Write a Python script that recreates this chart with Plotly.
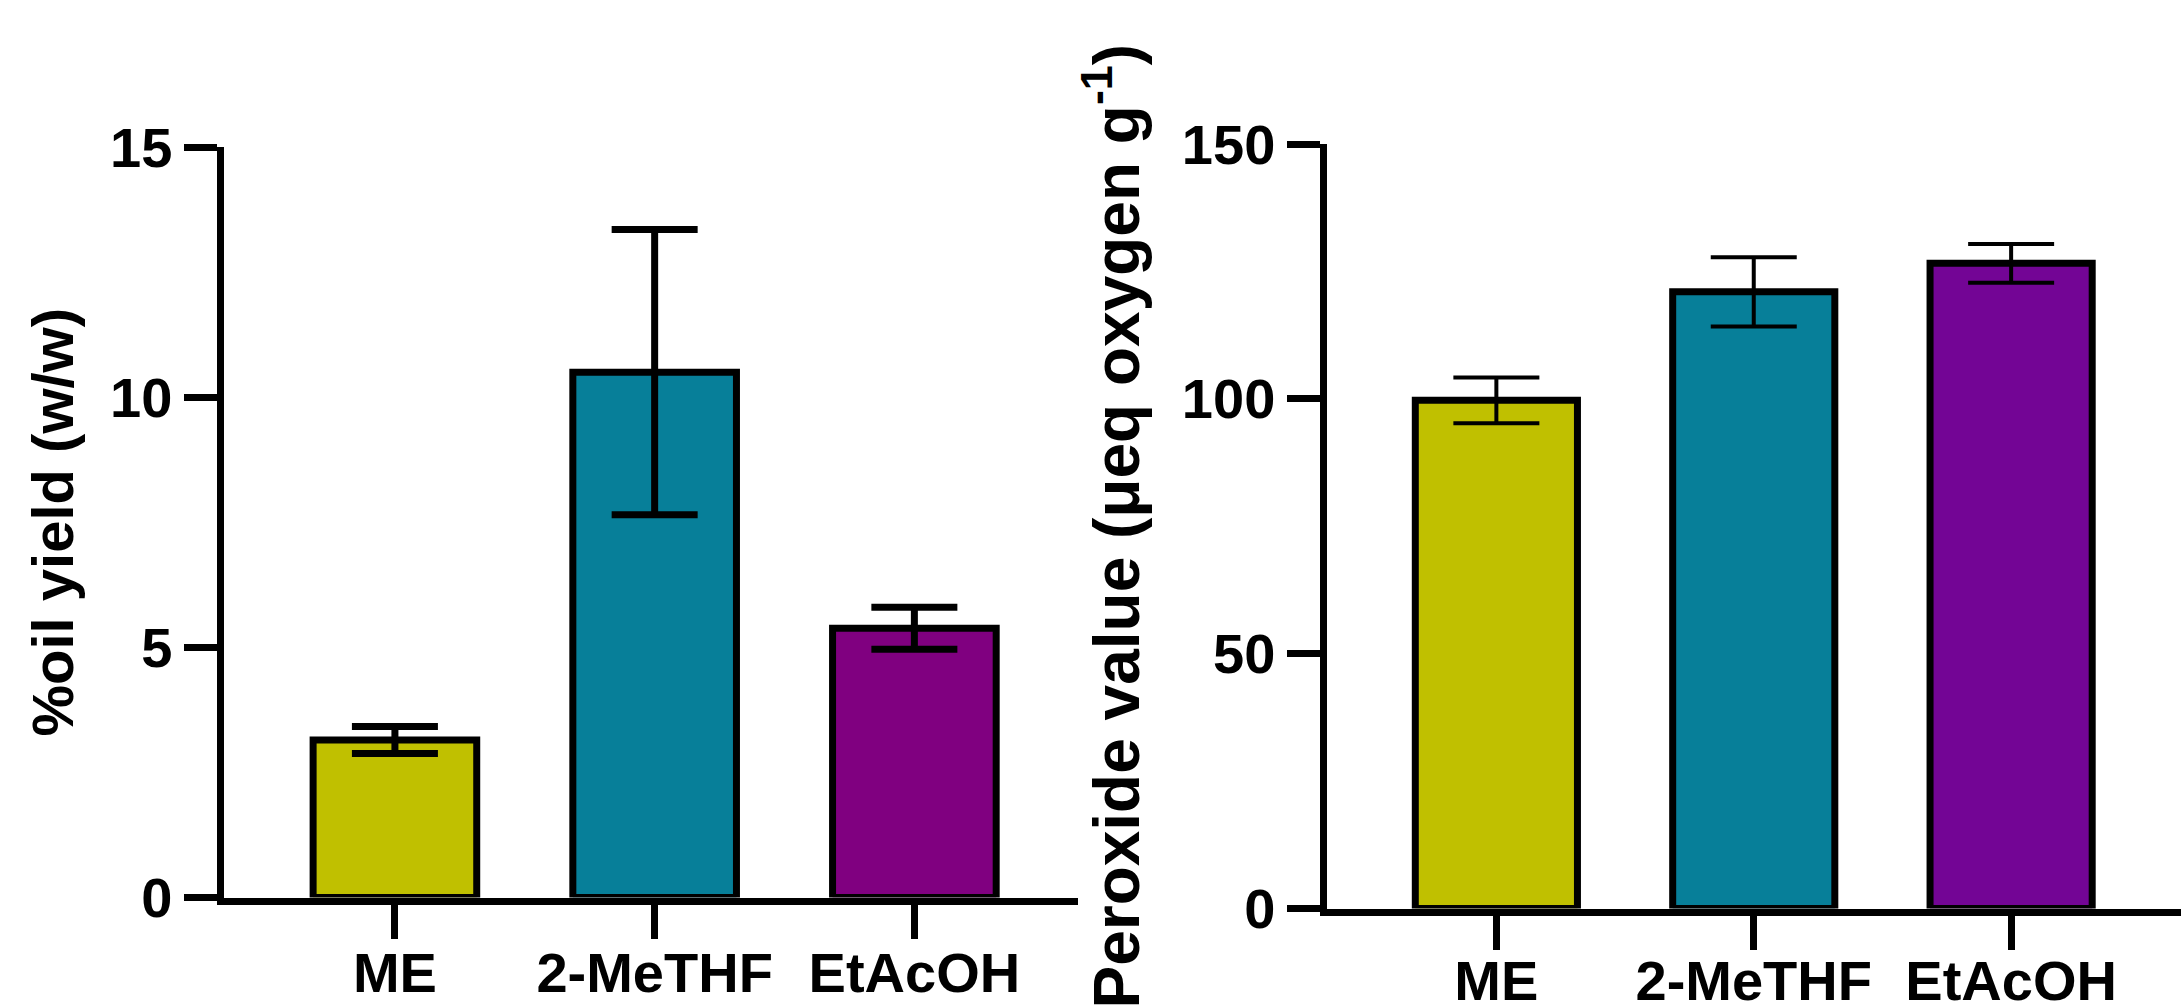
import plotly.graph_objects as go

categories = ["ME", "2-MeTHF", "EtAcOH"]

oil_yield = [3.15, 10.5, 5.38]
oil_yield_err = [0.27, 2.85, 0.42]
oil_colors = ["#C0C000", "#077F99", "#800080"]

peroxide = [99.7, 121.0, 126.6]
peroxide_err = [4.5, 6.8, 3.8]
peroxide_colors = ["#C0C000", "#077F99", "#730595"]

oil_ticks = [0, 5, 10, 15]
peroxide_ticks = [0, 50, 100, 150]

W, H = 2181, 1007
FONT = "Liberation Sans, Arial, sans-serif"

fig = go.Figure()

fig.add_trace(go.Bar(
    x=categories, y=oil_yield, width=0.63,
    marker=dict(color=oil_colors, line=dict(color="black", width=7)),
    error_y=dict(type="data", array=oil_yield_err, visible=True,
                 color="black", thickness=7, width=43),
    xaxis="x", yaxis="y", showlegend=False,
))
fig.add_trace(go.Bar(
    x=categories, y=peroxide, width=0.63,
    marker=dict(color=peroxide_colors, line=dict(color="black", width=7)),
    error_y=dict(type="data", array=peroxide_err, visible=True,
                 color="black", thickness=4, width=43),
    xaxis="x2", yaxis="y2", showlegend=False,
))

tickfont = dict(family=FONT, size=56, color="black", weight="bold")

common_x = dict(showline=True, linewidth=7, linecolor="black", ticks="outside",
                ticklen=34, tickwidth=7, tickcolor="black", showgrid=False,
                zeroline=False, tickfont=tickfont, type="category",
                automargin=False)
common_y = dict(showline=True, linewidth=7, linecolor="black", ticks="outside",
                ticklen=33, tickwidth=7, tickcolor="black", showgrid=False,
                zeroline=False, tickfont=tickfont, automargin=False)

fig.update_layout(
    width=W, height=H,
    autosize=False,
    margin=dict(l=0, r=0, t=0, b=0, pad=0, autoexpand=False),
    paper_bgcolor="white", plot_bgcolor="white",
    bargap=0.37,
    xaxis=dict(domain=[223.5 / W, 1078 / W], range=[-0.66, 2.63],
               anchor="y", ticklabelstandoff=-14, **common_x),
    yaxis=dict(domain=[1 - 897.5 / H, 1 - 147 / H], range=[0, 15],
               tickvals=oil_ticks, anchor="x",
               title=dict(text="%oil yield (w/w)",
                          font=dict(family=FONT, size=58, color="black", weight="bold"),
                          standoff=20),
               **common_y),
    xaxis2=dict(domain=[1326.5 / W, 1.0], range=[-0.66, 2.66],
                anchor="y2", ticklabelstandoff=-17, **common_x),
    yaxis2=dict(domain=[1 - 908.5 / H, 1 - 144 / H], range=[0, 150],
                tickvals=peroxide_ticks, anchor="x2",
                title=dict(text="Peroxide value (μeq oxygen g<sup>-1</sup>)",
                           font=dict(family=FONT, size=64, color="black", weight="bold"),
                           standoff=24),
                **common_y),
)

fig.write_html("out.html")
